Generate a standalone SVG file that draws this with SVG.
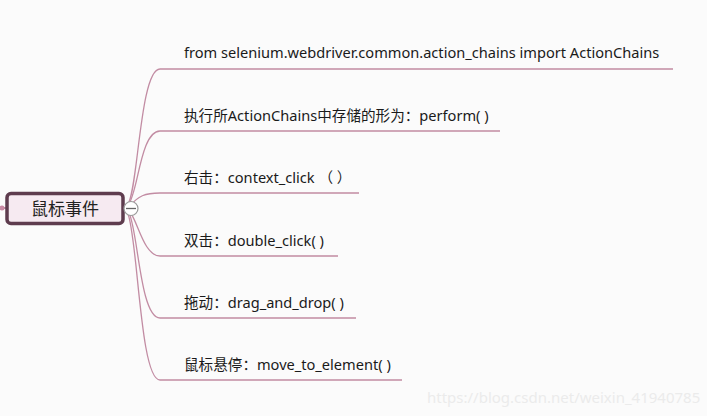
<svg xmlns="http://www.w3.org/2000/svg" width="707" height="416" viewBox="0 0 707 416">
<style>
.bg{fill:#fbfbfb}
.conn path{fill:none;stroke:#c28ca3;stroke-width:1.3}
.lbl{font-family:"Noto Sans","Noto Sans CJK SC",sans-serif;font-size:14.6px;fill:#1a1a1a}
.root rect{fill:#f6eaf1;stroke:#5e3c4e;stroke-width:3.5}
.root text{font-family:"Noto Sans CJK SC",sans-serif;font-size:17px;fill:#222;text-anchor:middle}
.wm{font-family:"Noto Sans","Liberation Sans",sans-serif;font-size:15px;fill:#ebebeb}
</style>
<rect class="bg" x="0" y="0" width="707" height="416"/>
<g id="connectors" class="conn">
<path d="M128,204 C138,190 140,69 160,69 L673,69"/>
<path d="M128,205 C138,195 140,131 160,131 L500,131"/>
<path d="M130,206 C138,196 145,193 160,193 L359,193"/>
<path d="M130,212 C138,222 144,256 160,256 L338,256"/>
<path d="M129,213 C138,230 140,318 160,318 L356,318"/>
<path d="M128,214 C138,240 140,380 160,380 L402,380"/>
<path d="M0,208 L6,208" style="stroke-width:2"/>
</g>
<circle cx="2" cy="208" r="2.5" fill="#c98aa4"/>
<g id="root" class="root">
<rect x="7" y="193.5" width="116" height="30" rx="4"/>
<text x="65" y="215">鼠标事件</text>
</g>
<g id="collapse">
<circle cx="131" cy="208.5" r="7" fill="#fff" stroke="#9a9a9a" stroke-width="1.2"/>
<line x1="126" y1="208.5" x2="136" y2="208.5" stroke="#666" stroke-width="1.3"/>
</g>
<g id="n1"><text class="lbl" x="184" y="58">from selenium.webdriver.common.action_chains import ActionChains</text></g>
<g id="n2"><text class="lbl" x="184" y="121">执行所ActionChains中存储的形为：perform( )</text></g>
<g id="n3"><text class="lbl" x="184" y="183">右击：context_click （ ）</text></g>
<g id="n4"><text class="lbl" x="184" y="246">双击：double_click( )</text></g>
<g id="n5"><text class="lbl" x="184" y="308">拖动：drag_and_drop( )</text></g>
<g id="n6"><text class="lbl" x="184" y="370">鼠标悬停：move_to_element( )</text></g>
<text class="wm" x="427" y="403">https://blog.csdn.net/weixin_41940785</text>
</svg>
